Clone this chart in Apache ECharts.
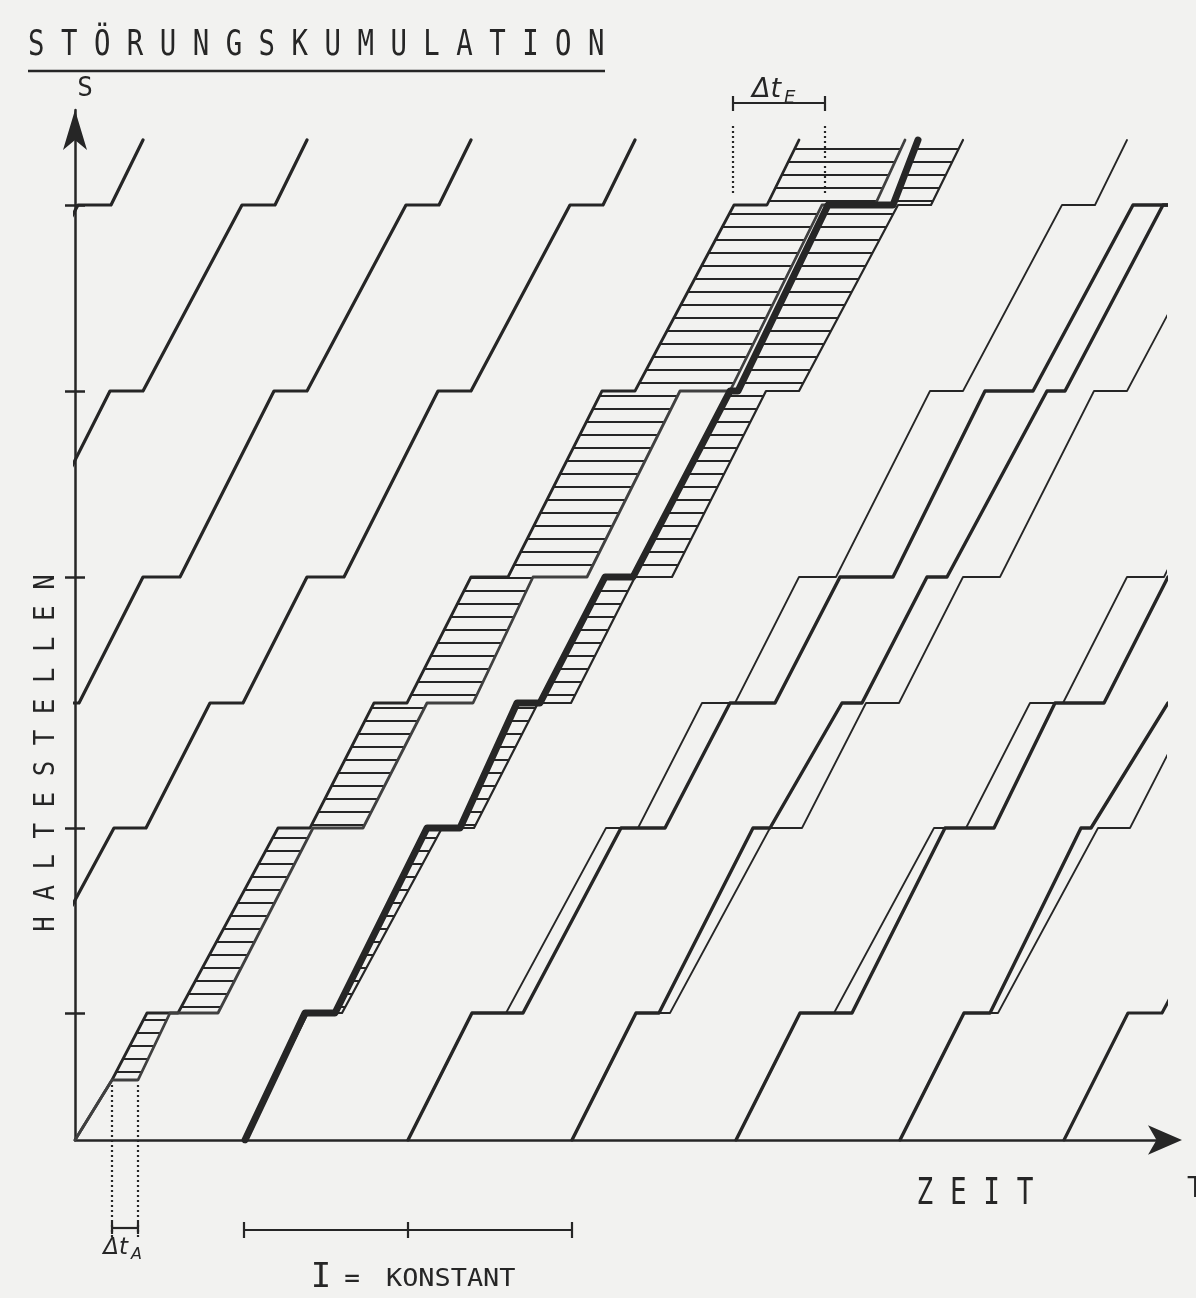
<!DOCTYPE html>
<html>
<head>
<meta charset="utf-8">
<title>Störungskumulation</title>
<script src="https://cdn.jsdelivr.net/npm/echarts@6.0.0/dist/echarts.min.js"></script>
<style>
  html, body { margin: 0; padding: 0; background: #f2f2f0; }
  #chart { width: 1196px; height: 1298px; }
</style>
</head>
<body>
<div id="chart"></div>
<script>
// Zeit (x) und Weg (y) in Zeichnungseinheiten ab Achsenursprung

// Fahrprofil eines ungestoerten Fahrzeugs (Fahrt + Haltezeit an jeder Haltestelle)
var profileTime = [0, 64, 98, 198, 230, 294, 327, 391, 428, 522, 555, 654, 687, 719];
var profileStop = [0, 127, 127, 312, 312, 437, 437, 563, 563, 749, 749, 935, 935, 1000];

// Haltestellen mit Strich an der Achse
var stopTicks = [127, 312, 563, 749, 935];

// Abfahrten nach Fahrplan (Takt I = konstant)
var regularDepartures = [-651, -487, -323, -159, 989];
var plannedDepartures = [169, 333, 497, 661, 825];

// Fahrzeug 0: Soll und Ist (Stoerung dt_A an der ersten Halt)
var v0Plan = [[0, 0], [37, 60], [72, 127], [103, 127], [203, 312], [235, 312], [299, 437], [332, 437],
  [396, 563], [433, 563], [527, 749], [560, 749], [659, 935], [692, 935], [724, 1000]];
var v0Actual = [[0, 0], [37, 60], [63, 60], [95, 127], [143, 127], [238, 312], [288, 312], [352, 437],
  [398, 437], [458, 563], [512, 563], [605, 749], [655, 749], [747, 935], [800, 935], [830, 1000]];

// Folgefahrzeuge (Ist)
var v1Actual = [[170, 0], [230, 127], [260, 127], [352, 312], [385, 312], [442, 437], [465, 437],
  [530, 563], [558, 563], [655, 749], [663, 749], [753, 935], [818, 935], [843, 1000]];
var v2Actual = [[333, 0], [397, 127], [448, 127], [546, 312], [590, 312], [655, 437], [700, 437],
  [765, 563], [818, 563], [910, 749], [958, 749], [1058, 935], [1125, 935]];
var v3Actual = [[497, 0], [561, 127], [584, 127], [678, 312], [695, 312], [767, 437], [787, 437],
  [852, 563], [872, 563], [972, 749], [990, 749], [1088, 935], [1120, 935]];
var v4Actual = [[661, 0], [725, 127], [777, 127], [870, 312], [919, 312], [980, 437], [1029, 437], [1093, 563]];
var v5Actual = [[825, 0], [889, 127], [915, 127], [1006, 312], [1016, 312], [1093, 437]];

// Beschriftungen an der Zeitachse
var deltaA = [37, 63];
var deltaE = [658, 750];
var headwayMarks = [169, 333, 497];

var ink = '#262626';
var mono = '"DejaVu Sans Mono", monospace';

function planned(dep) {
  return profileTime.map(function (t, i) { return [dep + t, profileStop[i]]; });
}

function reversed(arr) { return arr.slice().reverse(); }

// Schraffur (waagrechte Striche)
var hatchCanvas = document.createElement('canvas');
hatchCanvas.width = 8;
hatchCanvas.height = 13;
var hctx = hatchCanvas.getContext('2d');
hctx.fillStyle = '#262626';
hctx.fillRect(0, 5, 8, 2);
var hatch = { image: hatchCanvas, repeat: 'repeat' };

var v1Plan = planned(plannedDepartures[0]);
var bands = [
  v0Plan.slice(1).concat(reversed(v0Actual.slice(1))),
  v1Plan.concat(reversed(v1Actual))
];

function line(name, data, width, color, z) {
  return {
    type: 'line', name: name, data: data, symbol: 'none', showSymbol: false,
    clip: true, silent: true, z: z || 3,
    lineStyle: { width: width, color: color || ink, cap: 'round', join: 'round' }
  };
}

var series = [];

series.push({
  type: 'custom', name: 'Verspätung', coordinateSystem: 'cartesian2d', z: 1, silent: true,
  data: bands.map(function (b, i) { return [i, 0]; }),
  renderItem: function (params, api) {
    var poly = bands[params.dataIndex];
    return {
      type: 'polygon',
      shape: { points: poly.map(function (p) { return api.coord(p); }) },
      style: { fill: hatch, stroke: null }
    };
  }
});

regularDepartures.forEach(function (d, i) {
  series.push(line('Fahrt ' + i, planned(d), 3.2));
});
plannedDepartures.forEach(function (d, i) {
  series.push(line('Soll ' + (i + 1), planned(d), i === 0 ? 2.2 : 1.8));
});

series.push(line('Soll 0', v0Plan, 2.8));
series.push(line('Ist 0', v0Actual, 2.8, '#404040', 4));
series.push(line('Ist 1', v1Actual, 7, ink, 5));
series.push(line('Ist 2', v2Actual, 3.4));
series.push(line('Ist 3', v3Actual, 3.4));
series.push(line('Ist 4', v4Actual, 3.4));
series.push(line('Ist 5', v5Actual, 3.4));

// Masslinien dt_A, dt_E und Takt I
series.push({
  type: 'custom', name: 'Bemassung', coordinateSystem: 'cartesian2d', clip: false, silent: true, z: 6,
  data: [[0, 0]],
  renderItem: function (params, api) {
    var c = [];
    var dotted = { stroke: ink, lineWidth: 2.2, lineDash: [2, 3] };
    var solid = { stroke: ink, lineWidth: 2.2 };
    function seg(a, b, st) {
      c.push({ type: 'line', shape: { x1: a[0], y1: a[1], x2: b[0], y2: b[1] }, style: st });
    }
    function txt(x, y, text, font, align, sx) {
      c.push({ type: 'text', x: x, y: y, scaleX: sx || 1,
        style: { text: text, font: font, fill: ink, align: align || 'center', verticalAlign: 'middle' } });
    }
    // dt_A
    deltaA.forEach(function (t) { seg(api.coord([t, 55]), api.coord([t, -97]), dotted); });
    var a1 = api.coord([deltaA[0], -88]), a2 = api.coord([deltaA[1], -88]);
    seg(a1, a2, solid);
    seg([a1[0], a1[1] - 6], [a1[0], a1[1] + 6], solid);
    seg([a2[0], a2[1] - 6], [a2[0], a2[1] + 6], solid);
    var ca = (a1[0] + a2[0]) / 2;
    txt(ca + 3, a1[1] + 20, 'Δt', 'italic 23px "DejaVu Sans"', 'right');
    txt(ca + 6, a1[1] + 27, 'A', 'italic 16px "DejaVu Sans"', 'left');
    // dt_E
    deltaE.forEach(function (t) { seg(api.coord([t, 947]), api.coord([t, 1015]), dotted); });
    var e1 = api.coord([deltaE[0], 1037]), e2 = api.coord([deltaE[1], 1037]);
    seg(e1, e2, solid);
    seg([e1[0], e1[1] - 7], [e1[0], e1[1] + 8], solid);
    seg([e2[0], e2[1] - 7], [e2[0], e2[1] + 8], solid);
    var ce = (e1[0] + e2[0]) / 2;
    txt(ce + 2, e1[1] - 13, 'Δt', 'italic 27px "DejaVu Sans"', 'right');
    txt(ce + 5, e1[1] - 5, 'E', 'italic 18px "DejaVu Sans"', 'left');
    // Takt I
    var h0 = api.coord([headwayMarks[0], -90]);
    var h2 = api.coord([headwayMarks[headwayMarks.length - 1], -90]);
    seg(h0, h2, solid);
    headwayMarks.forEach(function (t) {
      var p = api.coord([t, -90]);
      seg([p[0], p[1] - 8], [p[0], p[1] + 8], solid);
    });
    var hm = api.coord([headwayMarks[1], -138]);
    txt(hm[0] - 87, hm[1], 'I', '34px ' + mono, 'center');
    txt(hm[0] - 56, hm[1] + 2, '=', '26px ' + mono, 'center');
    txt(hm[0] - 22, hm[1] + 2, 'KONSTANT', '24px ' + mono, 'left', 1.12);
    return { type: 'group', children: c };
  }
});

var chart = echarts.init(document.getElementById('chart'), null, { renderer: 'canvas' });
var option = {
  backgroundColor: '#f2f2f0',
  animation: false,
  grid: { left: 75, right: 31, top: 110, bottom: 158, containLabel: false, outerBoundsMode: 'none' },
  xAxis: [{
    type: 'value', min: 0, max: 1090,
    name: 'T', nameLocation: 'end', nameGap: 22,
    nameTextStyle: { color: ink, fontFamily: 'DejaVu Sans Mono', fontSize: 28, verticalAlign: 'top', padding: [36, 0, 0, 0] },
    axisLine: { show: true, lineStyle: { color: ink, width: 2.5 }, symbol: ['none', 'arrow'], symbolSize: [22, 34], symbolOffset: [0, 17] },
    axisTick: { show: false }, axisLabel: { show: false }, splitLine: { show: false }
  }],
  yAxis: [{
    type: 'value', min: 0, max: 1030, position: 'left',
    name: 'S', nameLocation: 'end', nameGap: 8,
    nameTextStyle: { color: ink, fontFamily: 'DejaVu Sans Mono', fontSize: 26, align: 'center', padding: [0, 0, 0, 20] },
    axisLine: { show: true, lineStyle: { color: ink, width: 2.5 }, symbol: ['none', 'arrow'], symbolSize: [18, 40], symbolOffset: [0, 0] },
    axisTick: { show: true, length: 10, customValues: stopTicks, lineStyle: { color: ink, width: 2.5 } },
    axisLabel: { show: false }, splitLine: { show: false }
  }, {
    type: 'value', min: 0, max: 1030, position: 'left', offset: 0,
    axisLine: { show: false },
    axisTick: { show: true, inside: true, length: 10, customValues: stopTicks, lineStyle: { color: ink, width: 2.5 } },
    axisLabel: { show: false }, splitLine: { show: false }
  }],
  graphic: [
    { type: 'text', x: 28, y: 46, scaleX: 0.76, silent: true,
      style: { text: 'S T Ö R U N G S K U M U L A T I O N', font: '36px ' + mono, fill: ink, verticalAlign: 'middle' } },
    { type: 'line', silent: true, shape: { x1: 28, y1: 71, x2: 605, y2: 71 }, style: { stroke: ink, lineWidth: 2.5 } },
    { type: 'text', x: 46, y: 753, rotation: Math.PI / 2, scaleX: 0.89, silent: true,
      style: { text: 'H A L T E S T E L L E N', font: '29px ' + mono, fill: ink, align: 'center', verticalAlign: 'middle' } },
    { type: 'text', x: 975, y: 1194, scaleX: 0.75, silent: true,
      style: { text: 'Z E I T', font: '37px ' + mono, fill: ink, align: 'center', verticalAlign: 'middle' } }
  ],
  series: series
};
chart.setOption(option);

window.onresize = function () { chart.resize(); };
</script>
</body>
</html>
